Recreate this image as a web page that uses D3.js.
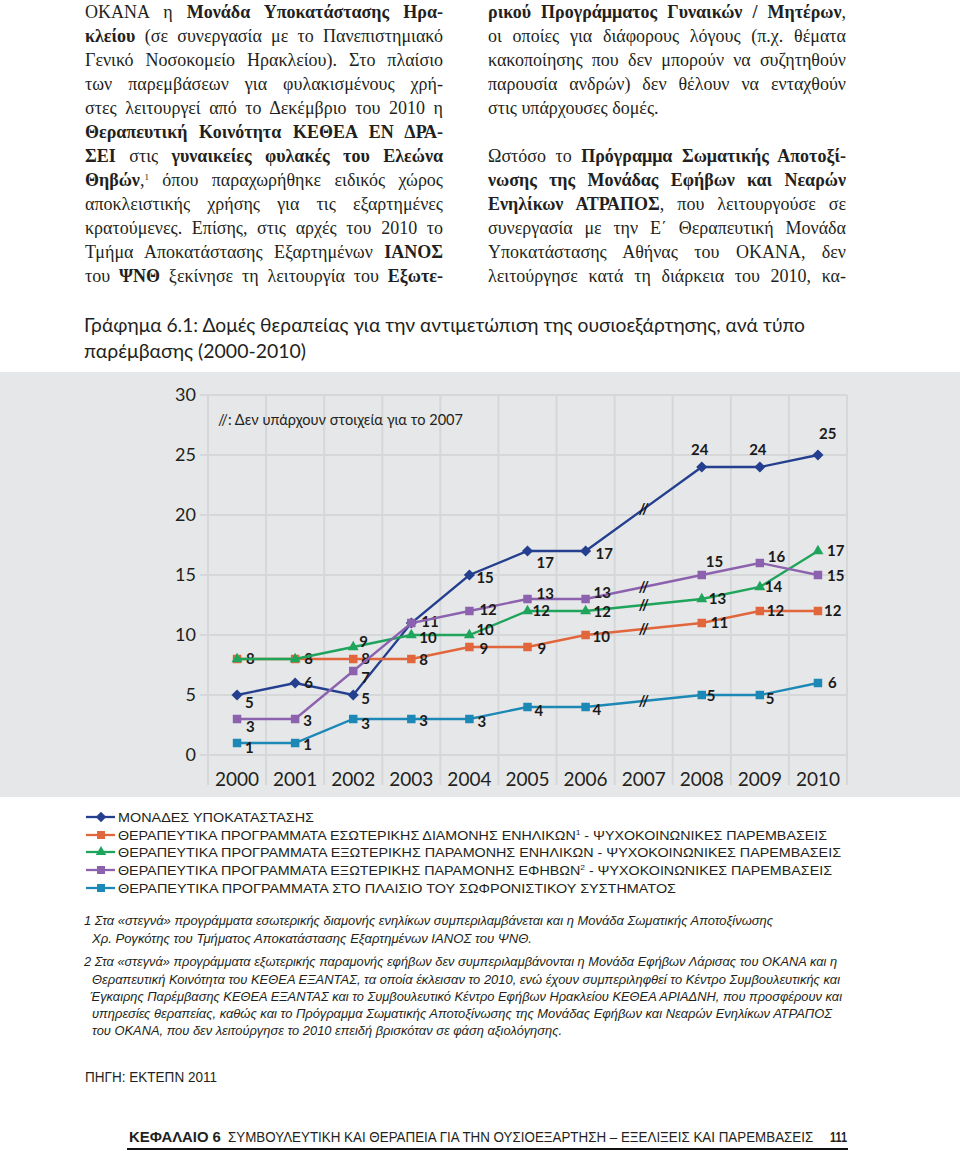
<!DOCTYPE html>
<html>
<head>
<meta charset="utf-8">
<script src="https://cdn.jsdelivr.net/npm/d3@7"></script>
<style>
html,body{margin:0;padding:0;background:#fff;}
body{width:960px;height:1151px;position:relative;overflow:hidden;}
#chart{position:absolute;left:0;top:0;}
.col{position:absolute;top:0;width:358px;font-family:"Liberation Serif",serif;font-size:18px;line-height:24px;color:#231f20;}
.col div{height:24px;text-align:justify;text-align-last:justify;white-space:nowrap;}
.col div.last{text-align-last:left;}
.col b{font-weight:bold;}
.col sup{font-size:9px;line-height:0;vertical-align:6px;}
</style>
</head>
<body>
<div class="col" id="leftcol" style="left:85px"></div>
<div class="col" id="rightcol" style="left:488px"></div>
<svg id="chart" width="960" height="1151"></svg>
<script>
// ---------- DATA ----------
const years = ["2000","2001","2002","2003","2004","2005","2006","2007","2008","2009","2010"];
const yTicks = [0,5,10,15,20,25,30];
const monades            = [5,6,5,11,15,17,17,null,24,24,25];
const esoterikisEnilikon = [8,8,8,8,9,9,10,null,11,12,12];
const exoterikisEnilikon = [8,8,9,10,10,12,12,null,13,14,17];
const exoterikisEfivon   = [3,3,7,11,12,13,13,null,15,16,15];
const sofronistiko       = [1,1,3,3,3,4,4,null,5,5,6];
const legendLabels = [
  "ΜΟΝΑΔΕΣ ΥΠΟΚΑΤΑΣΤΑΣΗΣ",
  "ΘΕΡΑΠΕΥΤΙΚΑ ΠΡΟΓΡΑΜΜΑΤΑ ΕΣΩΤΕΡΙΚΗΣ ΔΙΑΜΟΝΗΣ ΕΝΗΛΙΚΩΝ|1| - ΨΥΧΟΚΟΙΝΩΝΙΚΕΣ ΠΑΡΕΜΒΑΣΕΙΣ",
  "ΘΕΡΑΠΕΥΤΙΚΑ ΠΡΟΓΡΑΜΜΑΤΑ ΕΞΩΤΕΡΙΚΗΣ ΠΑΡΑΜΟΝΗΣ ΕΝΗΛΙΚΩΝ - ΨΥΧΟΚΟΙΝΩΝΙΚΕΣ ΠΑΡΕΜΒΑΣΕΙΣ",
  "ΘΕΡΑΠΕΥΤΙΚΑ ΠΡΟΓΡΑΜΜΑΤΑ ΕΞΩΤΕΡΙΚΗΣ ΠΑΡΑΜΟΝΗΣ ΕΦΗΒΩΝ|2| - ΨΥΧΟΚΟΙΝΩΝΙΚΕΣ ΠΑΡΕΜΒΑΣΕΙΣ",
  "ΘΕΡΑΠΕΥΤΙΚΑ ΠΡΟΓΡΑΜΜΑΤΑ ΣΤΟ ΠΛΑΙΣΙΟ ΤΟΥ ΣΩΦΡΟΝΙΣΤΙΚΟΥ ΣΥΣΤΗΜΑΤΟΣ"
];
const missingYear = "2007";
const title1 = "Γράφημα 6.1: Δομές θεραπείας για την αντιμετώπιση της ουσιοεξάρτησης, ανά τύπο";
const title2 = "παρέμβασης (2000-2010)";
const note = "//:  Δεν υπάρχουν στοιχεία για το 2007";

// ---------- STYLE / PLACEMENT (not data) ----------
const colors = ["#243f8f","#e2663b","#1fa45c","#8c62ae","#1c88b6"];
const shapes = ["diamond","square","triangle","square","square"];
// label nudges [dx, dy, anchor]; false = label hidden (overlapping duplicate)
const labelNudge = [
  [[8,8],[9,0],[8,4],[10,-1],[7,3],[9,12],[10,3],null,[-2,-17,"middle"],[-2,-17,"middle"],[1,-21]],
  [[9,0],[9,0],[8,0],[8,1],[10,2],[10,2],[7,2],null,[9,0],[7,0],[6,0]],
  [false,false,[6,-5],[8,3],[7,-5],[5,0],[8,1],null,[7,0],[5,0],[9,0]],
  [[9,8],[8,2],[8,7],false,[10,-1],[9,-5],[8,-6],null,[4,-13],[8,-6],[9,1]],
  [[8,5],[8,2],[8,5],[8,2],[8,3],[7,4],[7,3],null,[5,1],[6,4],[10,0]]
];
const valuesList = [monades, esoterikisEnilikon, exoterikisEnilikon, exoterikisEfivon, sofronistiko];

// ---------- BODY TEXT ----------
const leftLines = [
  "ΟΚΑΝΑ η <b>Μονάδα Υποκατάστασης Ηρα-</b>",
  "<b>κλείου</b> (σε συνεργασία με το Πανεπιστημιακό",
  "Γενικό Νοσοκομείο Ηρακλείου). Στο πλαίσιο",
  "των παρεμβάσεων για φυλακισμένους χρή-",
  "στες λειτουργεί από το Δεκέμβριο του 2010 η",
  "<b>Θεραπευτική Κοινότητα ΚΕΘΕΑ ΕΝ ΔΡΑ-</b>",
  "<b>ΣΕΙ</b> στις <b>γυναικείες φυλακές του Ελεώνα</b>",
  "<b>Θηβών</b>,<sup>1</sup> όπου παραχωρήθηκε ειδικός χώρος",
  "αποκλειστικής χρήσης για τις εξαρτημένες",
  "κρατούμενες. Επίσης, στις αρχές του 2010 το",
  "Τμήμα Αποκατάστασης Εξαρτημένων <b>ΙΑΝΟΣ</b>",
  "του <b>ΨΝΘ</b> ξεκίνησε τη λειτουργία του <b>Εξωτε-</b>"
];
const rightLines = [
  "<b>ρικού Προγράμματος Γυναικών / Μητέρων</b>,",
  "οι οποίες για διάφορους λόγους (π.χ. θέματα",
  "κακοποίησης που δεν μπορούν να συζητηθούν",
  "παρουσία ανδρών) δεν θέλουν να ενταχθούν",
  "#στις υπάρχουσες δομές.",
  "#",
  "Ωστόσο το <b>Πρόγραμμα Σωματικής Αποτοξί-</b>",
  "<b>νωσης της Μονάδας Εφήβων και Νεαρών</b>",
  "<b>Ενηλίκων ΑΤΡΑΠΟΣ</b>, που λειτουργούσε σε",
  "συνεργασία με την Ε΄ Θεραπευτική Μονάδα",
  "Υποκατάστασης Αθήνας του ΟΚΑΝΑ, δεν",
  "λειτούργησε κατά τη διάρκεια του 2010, κα-"
];
function fillCol(id, lines){
  const c = d3.select(id);
  lines.forEach(l=>{
    const last = l.startsWith("#");
    c.append("div").attr("class", last ? "last" : null).html(last ? (l.slice(1)||"&nbsp;") : l);
  });
}
fillCol("#leftcol", leftLines);
fillCol("#rightcol", rightLines);

// ---------- CHART ----------
const svg = d3.select("#chart");
const ink = "#231f20";
const sansFont = "Lato, 'Open Sans', sans-serif";

// title
svg.append("text").attr("x",84).attr("y",332).attr("textLength",721).attr("lengthAdjust","spacingAndGlyphs")
  .attr("font-family",sansFont).attr("font-size",19).attr("fill",ink).text(title1);
svg.append("text").attr("x",84).attr("y",358).attr("textLength",222).attr("lengthAdjust","spacingAndGlyphs")
  .attr("font-family",sansFont).attr("font-size",19).attr("fill",ink).text(title2);

// background panel
svg.append("rect").attr("x",0).attr("y",372).attr("width",960).attr("height",425).attr("fill","#e6e7e8");

const x = d3.scaleBand().domain(years).range([208,847]);
const y = d3.scaleLinear().domain([0,30]).range([755,395]);
const cx = d => x(d) + x.bandwidth()/2;

const grid = svg.append("g").attr("stroke","#d6d7d9").attr("stroke-width",2);
grid.selectAll("line.h").data(yTicks).join("line").attr("class","h")
  .attr("x1",200).attr("x2",x.range()[1]).attr("y1",d=>y(d)).attr("y2",d=>y(d));
grid.selectAll("line.v").data(years.map(d=>x(d)).concat([x.range()[1]])).join("line").attr("class","v")
  .attr("x1",d=>d).attr("x2",d=>d).attr("y1",y(30)).attr("y2",785);

// axes (labels only)
const yAxis = svg.append("g").attr("transform","translate(196,0)")
  .call(d3.axisLeft(y).tickValues(yTicks).tickSize(0).tickPadding(0));
yAxis.select(".domain").remove();
yAxis.selectAll("text").attr("font-family",sansFont).attr("font-size",18).attr("fill",ink)
  .attr("dy","0.3em");

const xAxis = svg.append("g").attr("transform","translate(0,786)")
  .call(d3.axisBottom(x).tickSize(0).tickPadding(0));
xAxis.select(".domain").remove();
xAxis.selectAll("text").attr("font-family",sansFont).attr("font-size",19).attr("fill",ink)
  .attr("y",0).attr("dy",0);

// note
svg.append("text").attr("x",218).attr("y",425).attr("textLength",245).attr("lengthAdjust","spacingAndGlyphs")
  .attr("font-family",sansFont).attr("font-size",15).attr("fill",ink).text(note);

function symbolPath(shape, scale){
  const s = scale||1;
  if(shape==="diamond") return d3.symbol(d3.symbolSquare, 62*s*s)();
  if(shape==="triangle") return d3.symbol(d3.symbolTriangle, 52*s*s)();
  return d3.symbol(d3.symbolSquare, 72*s*s)();
}

const line = d3.line().x(d=>cx(d.year)).y(d=>y(d.v));
valuesList.forEach((vals,i)=>{
  const pts = years.map((yr,j)=>({year:yr, v:vals[j], j})).filter(d=>d.v!==null);
  const g = svg.append("g");
  g.append("path").datum(pts).attr("d",line).attr("fill","none").attr("stroke",colors[i]).attr("stroke-width",2.3);
  // break mark on the missing year
  const mi = years.indexOf(missingYear);
  const prev = pts.filter(d=>d.j<mi).pop(), next = pts.find(d=>d.j>mi);
  if(prev && next){
    const t = (mi-prev.j)/(next.j-prev.j);
    const my = y(prev.v + (next.v-prev.v)*t);
    g.append("text").attr("x",cx(missingYear)).attr("y",my+5).attr("text-anchor","middle")
      .attr("font-family",sansFont).attr("font-weight","bold").attr("font-size",15).attr("fill","#111").text("//");
  }
  g.selectAll("path.m").data(pts).join("path").attr("class","m")
    .attr("transform",d=>`translate(${cx(d.year)},${y(d.v)})`+(shapes[i]==="diamond"?" rotate(45)":""))
    .attr("d",symbolPath(shapes[i])).attr("fill",colors[i]);
  g.selectAll("text.lbl").data(pts.filter(d=>labelNudge[i][d.j])).join("text").attr("class","lbl")
    .attr("x",d=>cx(d.year)+labelNudge[i][d.j][0])
    .attr("y",d=>y(d.v)+labelNudge[i][d.j][1]+5)
    .attr("text-anchor",d=>labelNudge[i][d.j][2]||"start")
    .attr("font-family",sansFont).attr("font-weight","bold").attr("font-size",15).attr("fill","#1a1a1a")
    .text(d=>d.v);
});

// legend
const legRowY = [817,835,852,870,888];
const legW = [196,709,723,714,558];
legendLabels.forEach((lab,i)=>{
  const g = svg.append("g").attr("transform",`translate(0,${legRowY[i]})`);
  g.append("line").attr("x1",86).attr("x2",115).attr("y1",0).attr("y2",0).attr("stroke",colors[i]).attr("stroke-width",2.3);
  g.append("path").attr("transform","translate(101,0)"+(shapes[i]==="diamond"?" rotate(45)":"")).attr("d",symbolPath(shapes[i],0.95)).attr("fill",colors[i]);
  const t = g.append("text").attr("x",118).attr("y",4.8).attr("textLength",legW[i]).attr("lengthAdjust","spacingAndGlyphs")
    .attr("font-family","'Liberation Sans', sans-serif").attr("font-size",13.5).attr("fill",ink);
  lab.split("|").forEach((part,k)=>{
    const ts = t.append("tspan").text(part);
    if(k===1){ ts.attr("font-size",8).attr("dy",-5); }
    if(k===2){ ts.attr("dy",5); }
  });
});

// footnotes
const footLines = [
  [84,925,689,"1 Στα «στεγνά» προγράμματα εσωτερικής διαμονής ενηλίκων συμπεριλαμβάνεται και η Μονάδα Σωματικής Αποτοξίνωσης"],
  [92,943,440,"Χρ. Ρογκότης του Τμήματος Αποκατάστασης Εξαρτημένων ΙΑΝΟΣ του ΨΝΘ."],
  [84,966,753,"2 Στα «στεγνά» προγράμματα εξωτερικής παραμονής εφήβων δεν συμπεριλαμβάνονται η Μονάδα Εφήβων Λάρισας του ΟΚΑΝΑ και η"],
  [92,984,748,"Θεραπευτική Κοινότητα του ΚΕΘΕΑ ΕΞΑΝΤΑΣ, τα οποία έκλεισαν το 2010, ενώ έχουν συμπεριληφθεί το Κέντρο Συμβουλευτικής και"],
  [90,1001,752,"Έγκαιρης Παρέμβασης ΚΕΘΕΑ ΕΞΑΝΤΑΣ και το Συμβουλευτικό Κέντρο Εφήβων Ηρακλείου ΚΕΘΕΑ ΑΡΙΑΔΝΗ, που προσφέρουν και"],
  [92,1018,740,"υπηρεσίες θεραπείας, καθώς και το Πρόγραμμα Σωματικής Αποτοξίνωσης της Μονάδας Εφήβων και Νεαρών Ενηλίκων ΑΤΡΑΠΟΣ"],
  [92,1035,470,"του ΟΚΑΝΑ, που δεν λειτούργησε το 2010 επειδή βρισκόταν σε φάση αξιολόγησης."]
];
footLines.forEach(f=>{
  svg.append("text").attr("x",f[0]).attr("y",f[1]).attr("textLength",f[2]).attr("lengthAdjust","spacingAndGlyphs")
    .attr("font-family","'Liberation Sans', sans-serif").attr("font-style","italic").attr("font-size",13).attr("fill",ink).text(f[3]);
});

svg.append("text").attr("x",85).attr("y",1082).attr("textLength",132).attr("lengthAdjust","spacingAndGlyphs")
  .attr("font-family","'Liberation Sans', sans-serif").attr("font-size",14).attr("fill",ink).text("ΠΗΓΗ: ΕΚΤΕΠΝ 2011");

// footer: each part drawn at natural size, then squeezed horizontally to its width
const footerParts = [
  [129,92,"bold","ΚΕΦΑΛΑΙΟ 6"],
  [228,586,"normal","ΣΥΜΒΟΥΛΕΥΤΙΚΗ ΚΑΙ ΘΕΡΑΠΕΙΑ ΓΙΑ ΤΗΝ ΟΥΣΙΟΕΞΑΡΤΗΣΗ – ΕΞΕΛΙΞΕΙΣ ΚΑΙ ΠΑΡΕΜΒΑΣΕΙΣ"],
  [830,17,"bold","111"]
];
footerParts.forEach(p=>{
  const g = svg.append("g");
  const t = g.append("text").attr("x",0).attr("y",0)
    .attr("font-family","'Liberation Sans', sans-serif").attr("font-weight",p[2]).attr("font-size",14.5).attr("fill",ink).text(p[3]);
  const w = t.node().getComputedTextLength() || p[1];
  g.attr("transform",`translate(${p[0]},1142) scale(${p[1]/w},1)`);
});
svg.append("line").attr("x1",127).attr("x2",848).attr("y1",1149).attr("y2",1149).attr("stroke","#111").attr("stroke-width",2);
</script>
</body>
</html>
